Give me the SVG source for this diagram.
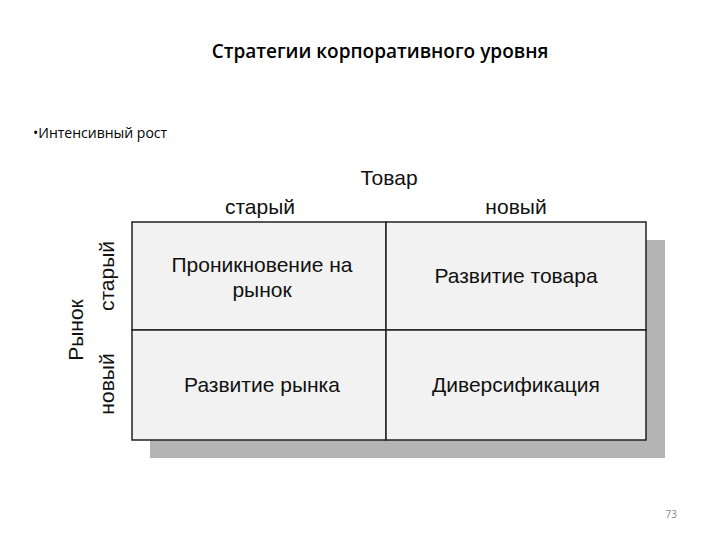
<svg xmlns="http://www.w3.org/2000/svg" width="720" height="540" viewBox="0 0 720 540">
<style>
.t{font-family:"Liberation Sans",Arial,sans-serif;font-size:21px;fill:#111;text-anchor:middle}
.c{font-family:"Open Sans","Liberation Sans",sans-serif;fill:#000}
.cell{fill:#f2f2f2;stroke:#222;stroke-width:1.5}
</style>
<rect width="720" height="540" fill="#fff"/>
<text class="c" x="380" y="58" font-size="19" font-weight="600" text-anchor="middle">Стратегии корпоративного уровня</text>
<text class="c" x="33" y="138" font-size="14">•Интенсивный рост</text>
<rect x="150" y="240" width="515" height="218" fill="#b4b4b4"/>
<g id="n1"><rect class="cell" x="132" y="222" width="254" height="108"/><text class="t" x="262" y="272">Проникновение на</text><text class="t" x="262" y="297">рынок</text></g>
<g id="n2"><rect class="cell" x="386" y="222" width="260" height="108"/><text class="t" x="516" y="283">Развитие товара</text></g>
<g id="n3"><rect class="cell" x="132" y="330" width="254" height="110"/><text class="t" x="262" y="392">Развитие рынка</text></g>
<g id="n4"><rect class="cell" x="386" y="330" width="260" height="110"/><text class="t" x="516" y="392">Диверсификация</text></g>
<g id="labels">
<text class="t" x="389" y="185" font-size="23">Товар</text>
<text class="t" x="260" y="214">старый</text>
<text class="t" x="516" y="214">новый</text>
<text class="t" font-size="24" transform="translate(83,330) rotate(-90)">Рынок</text>
<text class="t" transform="translate(114,276) rotate(-90)">старый</text>
<text class="t" transform="translate(114,384) rotate(-90)">новый</text>
</g>
<g id="connectors"/>
<text class="c" x="677" y="518" font-size="10" text-anchor="end" style="fill:#888">73</text>
</svg>
